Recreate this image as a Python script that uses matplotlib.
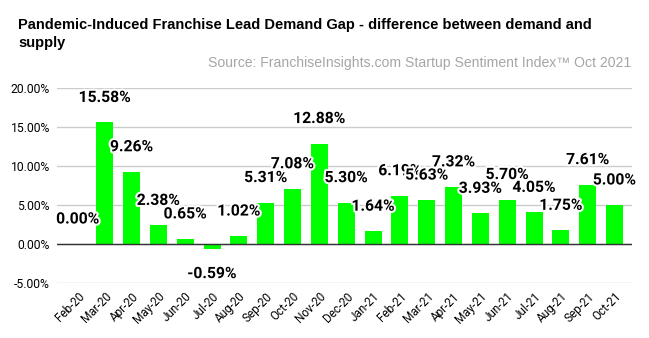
import matplotlib.pyplot as plt
import matplotlib.patheffects as pe
from matplotlib.ticker import FuncFormatter

months = ['Feb-20', 'Mar-20', 'Apr-20', 'May-20', 'Jun-20', 'Jul-20', 'Aug-20',
          'Sep-20', 'Oct-20', 'Nov-20', 'Dec-20', 'Jan-21', 'Feb-21', 'Mar-21',
          'Apr-21', 'May-21', 'Jun-21', 'Jul-21', 'Aug-21', 'Sep-21', 'Oct-21']
gap = [0.00, 15.58, 9.26, 2.38, 0.65, -0.59, 1.02, 5.31, 7.08, 12.88, 5.30,
       1.64, 6.19, 5.63, 7.32, 3.93, 5.70, 4.05, 1.75, 7.61, 5.00]
yticks = [-5, 0, 5, 10, 15, 20]

fig = plt.figure(figsize=(6.49, 3.38), dpi=100)
ax = fig.add_axes([57 / 649, 1 - 283 / 338, 575 / 649, 195 / 338])

x = list(range(len(months)))
ax.bar(x, gap, width=0.63, color='#00ff00', zorder=3)

ax.set_ylim(-5, 20)
ax.set_xlim(-0.78, 20.65)
ax.set_yticks(yticks)
ax.yaxis.set_major_formatter(FuncFormatter(lambda v, p: f'{v:.2f}%'))
ax.grid(axis='y', color='#cccccc', linewidth=1, zorder=0)
ax.axhline(0, color='#333333', linewidth=1, zorder=4)
for s in ax.spines.values():
    s.set_visible(False)
ax.tick_params(length=0, labelsize=8.7, pad=5)
for t in ax.get_yticklabels():
    t.set_family('Roboto')
ax.set_xticks(x)
ax.set_xticklabels(months, rotation=45, ha='right', rotation_mode='anchor',
                   family='Roboto', fontsize=8.5)

# value labels, ~25 px beyond bar end
for xi, v in zip(x, gap):
    off = 25 if v >= 0 else -25
    ax.annotate(f'{v:.2f}%', (xi, v), xytext=(0, off), textcoords='offset pixels',
                ha='center', va='center', fontsize=11.3, fontweight='bold',
                family='Roboto', zorder=5,
                path_effects=[pe.withStroke(linewidth=3, foreground='white')])

fig.text(18 / 649, 1 - 25 / 338, 'Pandemic-Induced Franchise Lead Demand Gap - difference between demand and',
         fontsize=10.5, fontweight='bold', family='Liberation Sans', va='center')
fig.text(18 / 649, 1 - 43 / 338, 'supply',
         fontsize=10.5, fontweight='bold', family='Liberation Sans', va='center')
fig.text(631 / 649, 1 - 63 / 338, 'Source: FranchiseInsights.com Startup Sentiment Index\u2122 Oct 2021',
         fontsize=10.1, color='#a6a6a6', family='Liberation Sans', ha='right', va='center')

fig.savefig('out.png', dpi=100)
